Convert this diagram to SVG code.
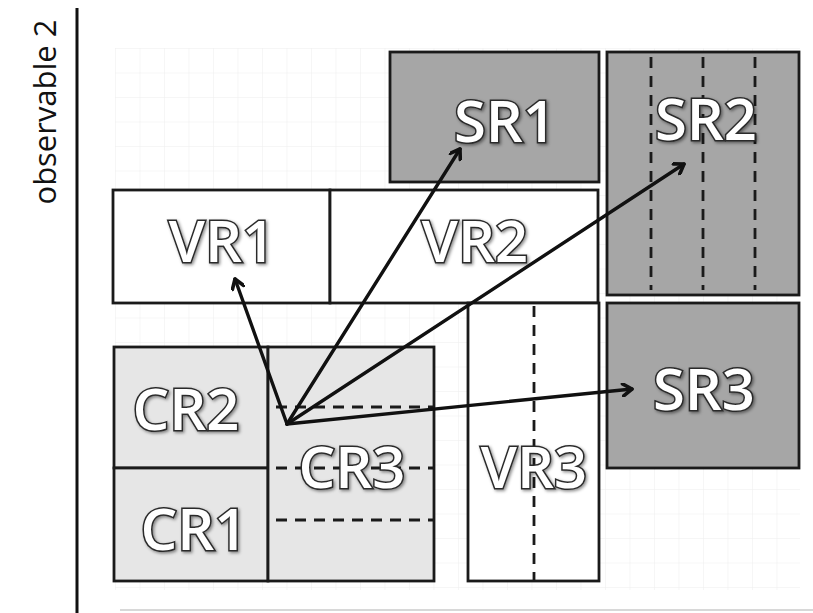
<svg xmlns="http://www.w3.org/2000/svg" width="813" height="613" viewBox="0 0 813 613">
<style>
.box{stroke:#1a1a1a;stroke-width:2.8}
.sr{fill:#a6a6a6}
.vr{fill:#ffffff}
.cr{fill:#e6e6e6}
.dash{stroke:#1a1a1a;stroke-width:2.8;stroke-dasharray:11 8;fill:none}
.lbl{font-family:"Open Sans","Liberation Sans",sans-serif;font-size:58px;font-weight:600;fill:#ffffff;stroke:#2a2a2a;stroke-width:3;paint-order:stroke;text-anchor:middle;filter:url(#sh)}
.conn{stroke:#111;stroke-width:3.4;fill:none;stroke-linecap:round}
.axis{stroke:#111;stroke-width:3}
</style>
<defs>
<pattern id="grid" x="115" y="48" width="24.5" height="24.5" patternUnits="userSpaceOnUse">
<path d="M0 0V24.5M0 0H24.5" stroke="#eeeeee" stroke-width="1" fill="none"/>
</pattern>
<filter id="sh" x="-20%" y="-20%" width="140%" height="140%">
<feDropShadow dx="1.5" dy="1.5" stdDeviation="1.5" flood-color="#000" flood-opacity="0.45"/>
</filter>
<marker id="ah" markerWidth="14" markerHeight="14" refX="11" refY="7" orient="auto" markerUnits="userSpaceOnUse">
<path d="M2 1L11 7L2 13" fill="none" stroke="#111" stroke-width="3.6" stroke-linecap="round" stroke-linejoin="round"/>
</marker>
</defs>
<rect width="813" height="613" fill="#ffffff"/>
<rect x="115" y="48" width="685" height="542" fill="url(#grid)"/>
<line class="axis" x1="77" y1="8" x2="77" y2="613"/>
<line x1="120" y1="610" x2="813" y2="610" stroke="#d8d8d8" stroke-width="2"/>
<text x="44" y="112" transform="rotate(-90 44 112)" font-family="'Open Sans','Liberation Sans',sans-serif" font-size="31" fill="#111" text-anchor="middle" dominant-baseline="central" textLength="185" lengthAdjust="spacingAndGlyphs">observable 2</text>

<g id="SR1">
<rect class="box sr" x="390" y="52" width="209" height="130"/>
<text class="lbl" x="505" y="142">SR1</text>
</g>
<g id="SR2">
<rect class="box sr" x="607" y="52" width="192" height="243"/>
<line class="dash" x1="651" y1="57" x2="651" y2="290"/>
<line class="dash" x1="703" y1="57" x2="703" y2="290"/>
<line class="dash" x1="755" y1="57" x2="755" y2="290"/>
<text class="lbl" x="706" y="140">SR2</text>
</g>
<g id="SR3">
<rect class="box sr" x="607" y="303" width="192" height="165"/>
<text class="lbl" x="704" y="410">SR3</text>
</g>
<g id="VR1">
<rect class="box vr" x="113" y="190" width="217" height="113"/>
<text class="lbl" x="222" y="262">VR1</text>
</g>
<g id="VR2">
<rect class="box vr" x="330" y="190" width="268" height="113"/>
<text class="lbl" x="475" y="262">VR2</text>
</g>
<g id="VR3">
<rect class="box vr" x="468" y="303" width="131" height="278"/>
<line class="dash" x1="534" y1="306" x2="534" y2="580"/>
<text class="lbl" x="534" y="488">VR3</text>
</g>
<g id="CR2">
<rect class="box cr" x="114" y="347" width="154" height="121"/>
<text class="lbl" x="186" y="430">CR2</text>
</g>
<g id="CR1">
<rect class="box cr" x="114" y="468" width="154" height="113"/>
<text class="lbl" x="194" y="550">CR1</text>
</g>
<g id="CR3">
<rect class="box cr" x="268" y="347" width="166" height="234"/>
<line class="dash" x1="276" y1="407" x2="434" y2="407"/>
<line class="dash" x1="276" y1="468" x2="434" y2="468"/>
<line class="dash" x1="276" y1="520" x2="434" y2="520"/>
<text class="lbl" x="352" y="488">CR3</text>
</g>

<g id="connectors">
<line class="conn" x1="287" y1="424" x2="235" y2="279" marker-end="url(#ah)"/>
<line class="conn" x1="287" y1="424" x2="460" y2="149" marker-end="url(#ah)"/>
<line class="conn" x1="287" y1="424" x2="684" y2="164" marker-end="url(#ah)"/>
<line class="conn" x1="287" y1="424" x2="632" y2="389" marker-end="url(#ah)"/>
</g>
</svg>
